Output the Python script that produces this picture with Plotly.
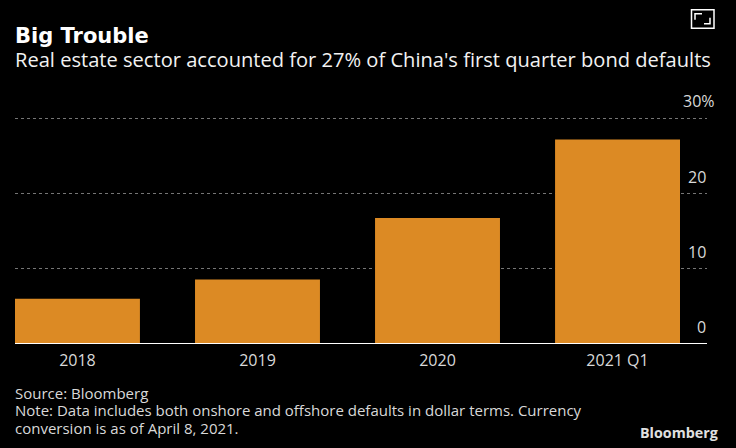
import plotly.graph_objects as go

categories = ["2018", "2019", "2020", "2021 Q1"]
values = [5.9, 8.5, 16.7, 27.2]
y_ticks = [0, 10, 20, 30]
y_tick_labels = ["0", "10", "20", "30%"]

W, H = 736, 448
L, R, T, B = 15, 707, 116.5, 343
FONT = "Open Sans"
BG = "#000000"
TXT = "#d9d9d9"

fig = go.Figure(go.Bar(x=categories, y=values, marker=dict(color="#dc8a24", line_width=0),
                       width=0.694, hoverinfo="skip"))

annotations = []
for t, lab in zip(y_ticks, y_tick_labels):
    annotations.append(dict(x=1, xref="paper", y=t, yref="y", text=lab, showarrow=False,
                            xanchor="right", yanchor="bottom",
                            yshift=5 if "%" in lab else 3,
                            xshift=10 if "%" in lab else 1,
                            font=dict(family=FONT, size=16, color=TXT)))

def px(x): return (x - L) / (R - L)
def py(y): return (B - y) / (B - T)

def text(x, y, s, size, color, xanchor="left", weight=None, family=FONT):
    annotations.append(dict(x=px(x), y=py(y), xref="paper", yref="paper", text=s,
                            showarrow=False, xanchor=xanchor, yanchor="middle",
                            font=dict(family=family, size=size, color=color, weight=weight)))

text(13, 35, "Big Trouble", 21, "#ffffff", weight=700, family="DejaVu Sans")
text(13, 59, "Real estate sector accounted for 27% of China's first quarter bond defaults", 20.1, "#f2f2f2")
text(13, 393, "Source: Bloomberg", 15, TXT)
text(13, 410.5, "Note: Data includes both onshore and offshore defaults in dollar terms. Currency", 15, TXT)
text(13, 428, "conversion is as of April 8, 2021.", 15, TXT)
text(720, 433, "Bloomberg", 14.3, "#e0e0e0", xanchor="right", weight=700)

shapes = [dict(type="rect", xref="paper", yref="paper", x0=px(691.5), x1=px(714), y0=py(27.5), y1=py(9),
               line=dict(color="#ffffff", width=1.5), fillcolor=BG)]
for pts in ([(695, 19), (695, 13), (702, 13)], [(710, 17), (710, 23), (704, 23)]):
    path = "M " + " L ".join(f"{px(a)} {py(b)}" for a, b in pts)
    shapes.append(dict(type="path", xref="paper", yref="paper", path=path,
                       line=dict(color="#ffffff", width=1.5)))

fig.update_layout(
    width=W, height=H, autosize=False, showlegend=False,
    paper_bgcolor=BG, plot_bgcolor=BG,
    margin=dict(l=L, r=W - R, t=T, b=H - B, pad=0),
    annotations=annotations, shapes=shapes,
    xaxis=dict(type="category", range=[-0.347, 3.497], showgrid=False, ticks="",
               tickfont=dict(family=FONT, size=16, color=TXT), ticklen=0, ticklabelstandoff=3,
               showline=True, linecolor="#ffffff", linewidth=1, zeroline=False),
    yaxis=dict(range=[0, 30.2], tickvals=y_ticks, showticklabels=False, ticks="",
               gridcolor="#757575", griddash="dot", gridwidth=1, zeroline=False, showline=False),
)
fig.write_html("out.html", config=dict(displayModeBar=False),
               post_script="document.body.style.margin='0';document.documentElement.style.background='#000';")
